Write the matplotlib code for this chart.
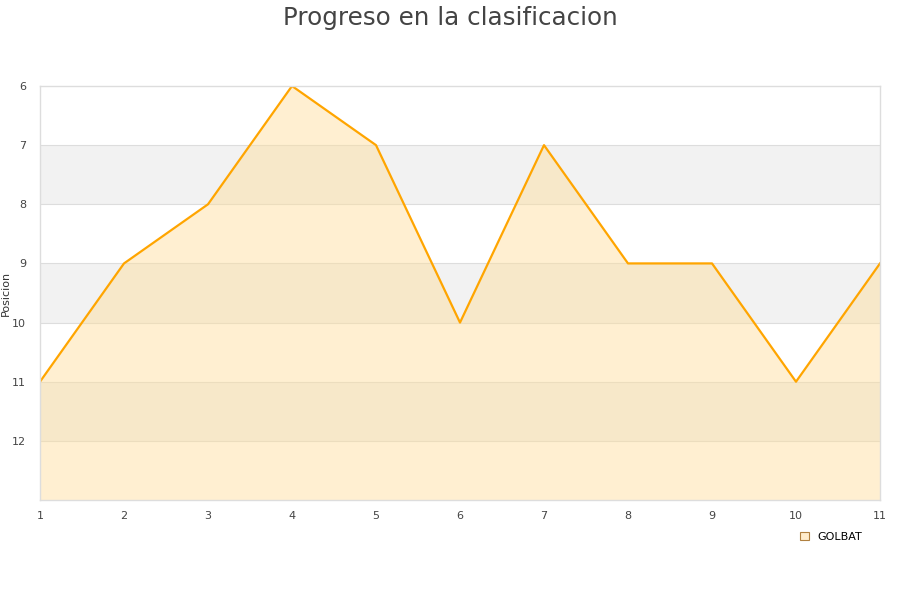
import matplotlib
matplotlib.use("Agg")
import matplotlib.pyplot as plt
from matplotlib.patches import Patch

jornadas = [1, 2, 3, 4, 5, 6, 7, 8, 9, 10, 11]
posiciones = [11, 9, 8, 6, 7, 10, 7, 9, 9, 11, 9]
y_ticks = [6, 7, 8, 9, 10, 11, 12]
serie = "GOLBAT"
titulo = "Progreso en la clasificacion"

fig = plt.figure(figsize=(9, 6), dpi=100)
ax = fig.add_axes([40/900, 1-500/600, 840/900, 414/600])

ax.set_xlim(1, 11)
ax.set_ylim(13, 6)

# alternating bands
for lo in [7, 9, 11]:
    ax.axhspan(lo, lo + 1, color="#f2f2f2", zorder=0, lw=0)
for y in y_ticks[1:]:
    ax.axhline(y, color="#dddddd", lw=0.8, zorder=0.5)

ax.fill_between(jornadas, posiciones, 13, color="#ffdd99", alpha=0.45, lw=0, zorder=1)
ax.plot(jornadas, posiciones, color="#ffa500", lw=1.6, zorder=2)

ax.set_xticks(jornadas)
ax.set_yticks(y_ticks)
ax.tick_params(length=0, labelsize=8, colors="#444444", pad=8)
ax.tick_params(axis="y", pad=10)
for s in ax.spines.values():
    s.set_color("#dddddd")
    s.set_linewidth(1)
ax.set_ylabel("Posicion", fontsize=8, color="#333333")
ax.yaxis.set_label_coords(-29/840, 0.5)

fig.text(0.5, 1-25/600, titulo, ha="center", va="baseline", fontsize=17.7, color="#444444")

leg = fig.legend(handles=[Patch(facecolor="#ffeccc", edgecolor="#b08040", lw=0.8, label=serie)],
                 loc="center", bbox_to_anchor=(831/900, 1-537/600), frameon=False,
                 fontsize=8, handlelength=0.8, handleheight=0.8, handletextpad=0.8)

fig.savefig("out.png", dpi=100)
